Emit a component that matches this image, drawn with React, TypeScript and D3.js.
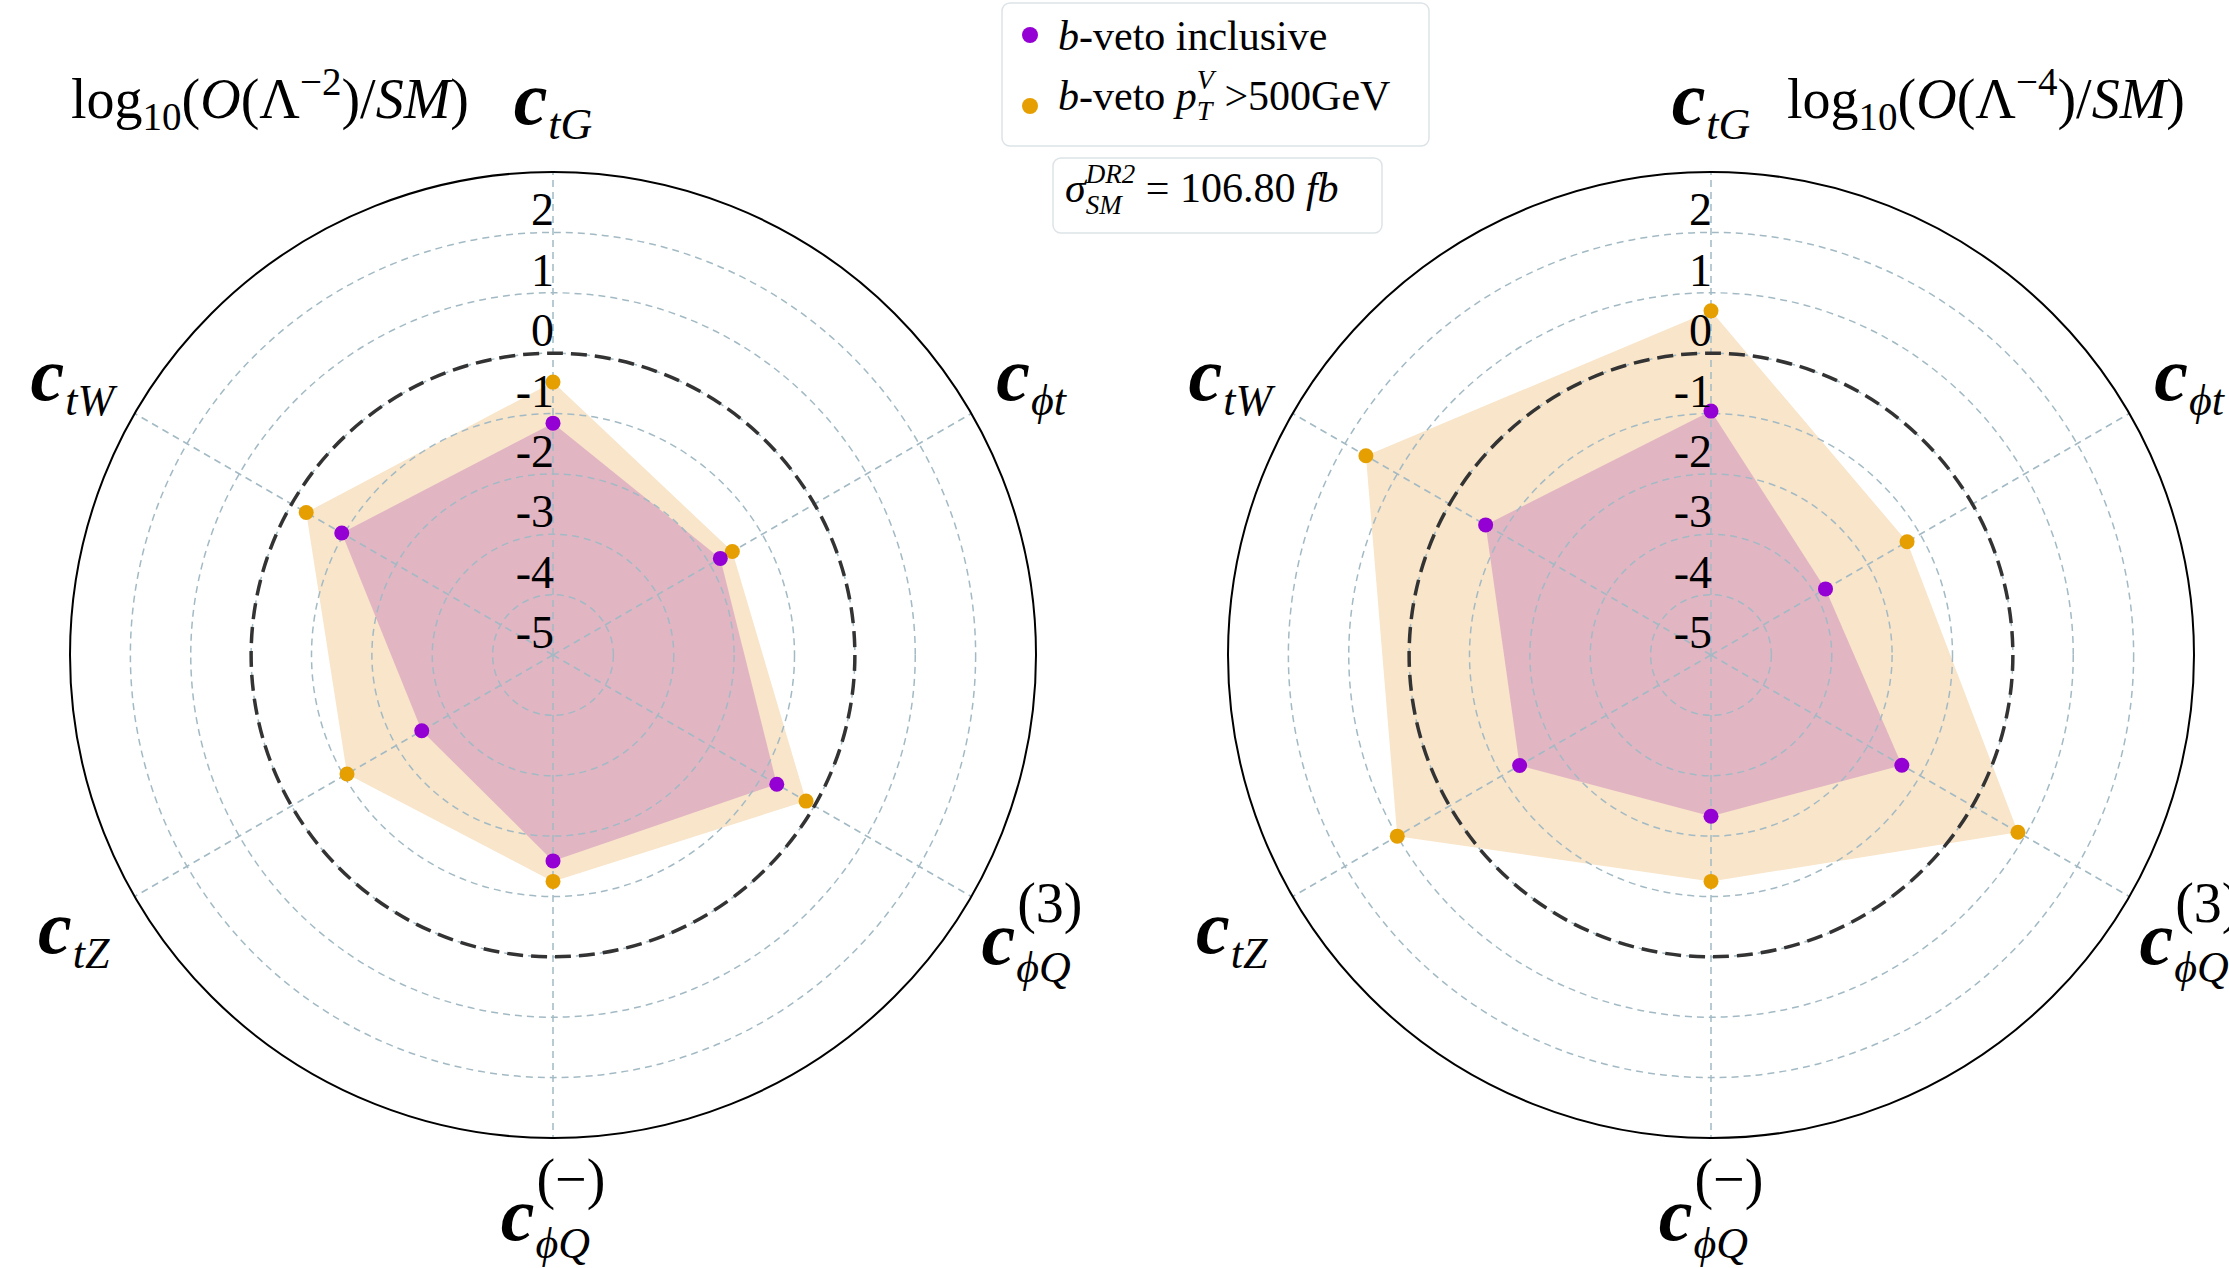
import React, { useEffect, useRef } from 'react'
import * as d3 from 'd3'

// axes of the radar, clockwise from the top
const coefficients = ['ctG', 'cphit', 'cphiQ3', 'cphiQm', 'ctZ', 'ctW']
const labelSub = ['tG', 'ϕt', 'ϕQ', 'ϕQ', 'tZ', 'tW']
const labelSup = ['', '', '(3)', '(−)', '', '']

const radialTicks = [-5, -4, -3, -2, -1, 0, 1, 2]
const gridRings = [-4, -3, -2, -1, 0, 1, 2]
const smLevel = 0

// log10(O(Λ^-2)/SM)
const lam2Inclusive = [-1.16, -1.8, -0.72, -1.59, -2.49, -0.96]
const lam2HighPt = [-0.48, -1.57, -0.16, -1.25, -1.06, -0.28]
// log10(O(Λ^-4)/SM)
const lam4Inclusive = [-0.96, -2.81, -1.35, -2.33, -1.34, -0.69]
const lam4HighPt = [0.7, -1.25, 0.87, -1.25, 1.0, 1.6]

const powers = ['−2', '−4']
const sigmaValue = '106.80'

const W = 2229
const H = 1268
const R = 483

const purple = '#9400d3'
const orange = '#e69f00'

type Part = { t: string; size: number; it?: boolean; dy?: number }
type Run = Part | { stack: Part[] }

// lay out text pieces one after another, returns end x
const putRuns = (g: any, x0: number, y0: number, list: Run[]) => {
    let x = x0
    list.forEach(run => {
        const parts: Part[] = 'stack' in run ? run.stack : [run]
        let w = 0
        parts.forEach(p => {
            const t = g.append('text')
                .attr('x', x)
                .attr('y', y0 + (p.dy || 0))
                .attr('font-size', p.size)
                .attr('font-style', p.it ? 'italic' : null)
                .style('white-space', 'pre')
                .text(p.t)
            w = Math.max(w, t.node().getComputedTextLength())
        })
        x += w
    })
    return x
}

const App = () => {
    const svgRef = useRef<SVGSVGElement>(null)

    useEffect(() => {
        const svg = d3.select(svgRef.current)
        svg.selectAll('*').remove()

        const rScale = d3.scaleLinear().domain([-5, 3]).range([0, R])
        const angle = d3.scaleLinear().domain([0, coefficients.length]).range([0, 2 * Math.PI])

        const panels = [
            { cx: 553, cy: 655, inclusive: lam2Inclusive, highPt: lam2HighPt, power: powers[0], titleX: 71 },
            { cx: 1711, cy: 655, inclusive: lam4Inclusive, highPt: lam4HighPt, power: powers[1], titleX: 1787 },
        ]

        const radar = d3.lineRadial<number>()
            .angle((d, i) => angle(i))
            .radius(d => rScale(d))
            .curve(d3.curveLinearClosed)

        panels.forEach(p => {
            const g = svg.append('g').attr('transform', `translate(${p.cx},${p.cy})`)

            // filled areas
            g.append('path').attr('d', radar(p.highPt)).attr('fill', '#f8e5ca')
            g.append('path').attr('d', radar(p.inclusive)).attr('fill', '#e2b5c3')

            // grid
            g.selectAll('.ring')
                .data(gridRings)
                .enter()
                .append('circle')
                .attr('r', d => rScale(d))
                .attr('fill', 'none')
                .attr('stroke', '#a3bac4')
                .attr('stroke-width', 1.5)
                .attr('stroke-dasharray', '7,5')

            g.selectAll('.spoke')
                .data(coefficients)
                .enter()
                .append('line')
                .attr('x1', 0)
                .attr('y1', 0)
                .attr('x2', (d, i) => d3.pointRadial(angle(i), R)[0])
                .attr('y2', (d, i) => d3.pointRadial(angle(i), R)[1])
                .attr('stroke', '#a3bac4')
                .attr('stroke-width', 1.5)
                .attr('stroke-dasharray', '7,5')

            // SM reference
            g.append('circle')
                .attr('r', rScale(smLevel))
                .attr('fill', 'none')
                .attr('stroke', '#333')
                .attr('stroke-width', 3.5)
                .attr('stroke-dasharray', '16,8')

            // outer frame
            g.append('circle')
                .attr('r', R)
                .attr('fill', 'none')
                .attr('stroke', '#000')
                .attr('stroke-width', 2)

            // markers
            const dots = (vals: number[], color: string) => {
                g.selectAll(null)
                    .data(vals)
                    .enter()
                    .append('circle')
                    .attr('cx', (d, i) => d3.pointRadial(angle(i), rScale(d))[0])
                    .attr('cy', (d, i) => d3.pointRadial(angle(i), rScale(d))[1])
                    .attr('r', 7.5)
                    .attr('fill', color)
            }
            dots(p.highPt, orange)
            dots(p.inclusive, purple)

            // radial tick labels
            g.selectAll('.rtick')
                .data(radialTicks)
                .enter()
                .append('text')
                .attr('x', 1)
                .attr('y', d => -rScale(d) - 7)
                .attr('text-anchor', 'end')
                .attr('font-size', 46)
                .text(d => String(d))

            // axis labels
            coefficients.forEach((c, i) => {
                const [px, py] = d3.pointRadial(angle(i), 553)
                const lg = g.append('g')
                const ct = lg.append('text')
                    .attr('font-size', 76)
                    .attr('font-style', 'italic')
                    .attr('font-weight', 'bold')
                    .text('c')
                const cw = (ct.node() as SVGTextElement).getComputedTextLength()
                lg.append('text')
                    .attr('x', cw + 1)
                    .attr('y', labelSup[i] ? 18 : 15)
                    .attr('font-size', 44)
                    .attr('font-style', 'italic')
                    .text(labelSub[i])
                if (labelSup[i]) {
                    lg.append('text')
                        .attr('x', cw + 2)
                        .attr('y', -42)
                        .attr('font-size', 56)
                        .text(labelSup[i])
                }
                const bb = (lg.node() as SVGGElement).getBBox()
                lg.attr('transform', `translate(${px - bb.x - bb.width / 2},${py - bb.y - bb.height / 2})`)
            })

            // title
            putRuns(svg, p.titleX, 118, [
                { t: 'log', size: 56 },
                { t: '10', size: 39, dy: 12 },
                { t: '(', size: 56 },
                { t: 'O', size: 56, it: true },
                { t: '(Λ', size: 56 },
                { t: p.power, size: 39, dy: -23 },
                { t: ')/', size: 56 },
                { t: 'SM', size: 56, it: true },
                { t: ')', size: 56 },
            ])
        })

        // legend
        svg.append('rect')
            .attr('x', 1002).attr('y', 3).attr('width', 427).attr('height', 143).attr('rx', 8)
            .attr('fill', '#fff').attr('stroke', '#dde3e6').attr('stroke-width', 1.5)
        svg.append('circle').attr('cx', 1030).attr('cy', 35).attr('r', 8).attr('fill', purple)
        svg.append('circle').attr('cx', 1030).attr('cy', 106).attr('r', 8).attr('fill', orange)
        putRuns(svg, 1058, 50, [
            { t: 'b', size: 42, it: true },
            { t: '-veto inclusive', size: 42 },
        ])
        putRuns(svg, 1058, 110, [
            { t: 'b', size: 42, it: true },
            { t: '-veto ', size: 42 },
            { t: 'p', size: 42, it: true },
            { stack: [{ t: 'V', size: 28, it: true, dy: -21 }, { t: 'T', size: 28, it: true, dy: 10 }] },
            { t: ' >500GeV', size: 42 },
        ])

        // SM cross section
        svg.append('rect')
            .attr('x', 1053).attr('y', 158).attr('width', 329).attr('height', 75).attr('rx', 8)
            .attr('fill', '#fff').attr('stroke', '#dde3e6').attr('stroke-width', 1.5)
        putRuns(svg, 1065, 202, [
            { t: 'σ', size: 42, it: true },
            { stack: [{ t: 'DR2', size: 27, it: true, dy: -19 }, { t: 'SM', size: 27, it: true, dy: 12 }] },
            { t: ' = ' + sigmaValue, size: 42 },
            { t: ' fb', size: 42, it: true },
        ])
    }, [])

    return (
        <svg
            ref={svgRef}
            width={W}
            height={H}
            fontFamily="'Liberation Serif', 'DejaVu Serif', serif"
            style={{ position: 'absolute', left: 0, top: 0, background: '#fff' }}
        ></svg>
    )
}

export default App
